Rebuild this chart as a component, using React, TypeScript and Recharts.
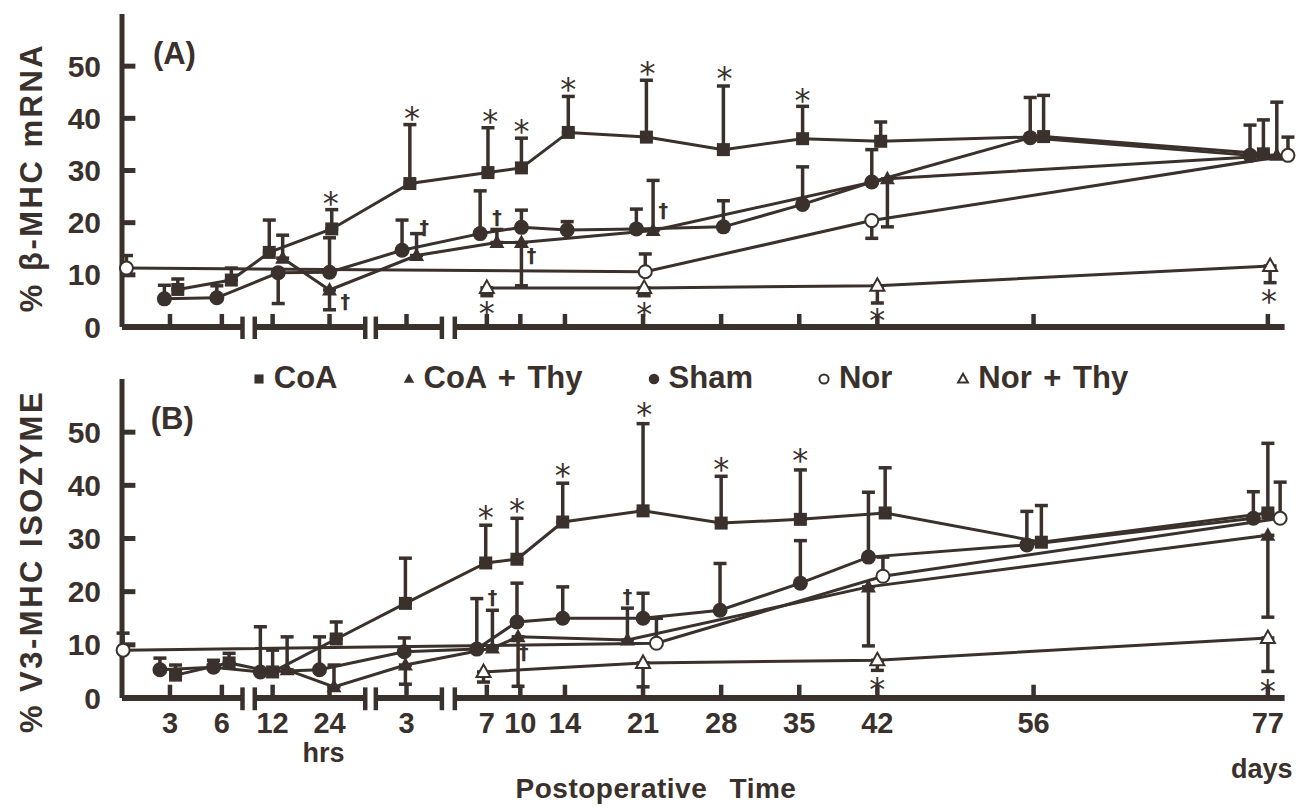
import React from 'react';
import {
  ComposedChart,
  Scatter,
  XAxis,
  YAxis,
  ErrorBar,
  ReferenceLine,
  ReferenceDot,
  Legend,
} from 'recharts';

const INK = '#3a302c';
const SANS = '"Liberation Sans", Arial, Helvetica, sans-serif';
const SYM = '"DejaVu Sans", sans-serif';

// ---------- broken time axis (days segment linear in days; hour/early segments compressed) ----------
const X_DOMAIN: [number, number] = [-25.7, 79.88];
const TIME_TICKS = [-21.4, -16.75, -12.2, -7.1, -0.2, 7, 10, 14, 21, 28, 35, 42, 56, 77];
const TIME_LABELS = ['3', '6', '12', '24', '3', '7', '10', '14', '21', '28', '35', '42', '56', '77'];
const TIME_UNITS = ['', '', '', 'hrs', '', '', '', '', '', '', '', '', '', 'days'];
const AXIS_PIECES: [number, number][] = [[-25.7, -14.9], [-13.8, -3.9], [-2.95, 2.97], [4.13, 78.5]];
const Y_TICKS = [0, 10, 20, 30, 40, 50];
const Y_DOMAIN: [number, number] = [0, 60];

const SERIES_NAMES = ['CoA', 'CoA + Thy', 'Sham', 'Nor', 'Nor + Thy'];
const SERIES_KINDS = ['square', 'tri', 'dot', 'ring', 'opentri'];

type Pt = { x: number; y: number; e: [number, number] };
const pts = (rows: number[][]): Pt[] => rows.map(([x, y, lo, hi]) => ({ x, y, e: [lo, hi] }));

// ---------- (A) % beta-MHC mRNA : [time, value, err down, err up] ----------
const coaA = pts([
  [-20.7, 7.2, 0, 2.0], [-15.9, 9.0, 0, 2.3], [-12.5, 14.3, 0, 6.2], [-6.9, 18.8, 0, 3.7],
  [0.1, 27.5, 0, 11.3], [7.1, 29.6, 0, 8.6], [10.1, 30.5, 0, 5.7], [14.3, 37.3, 0, 6.9],
  [21.3, 36.4, 0, 10.9], [28.2, 34.0, 0, 12.2], [35.3, 36.1, 0, 6.2], [42.3, 35.6, 0, 3.7],
  [56.9, 36.5, 0, 7.9], [76.6, 33.2, 0, 6.5],
]);
const coaThyA = pts([
  [-11.3, 13.2, 0, 4.4], [-7.1, 7.1, 3.8, 0], [0.7, 13.7, 0, 4.2], [7.9, 16.2, 0, 2.5],
  [10.1, 16.2, 8.3, 0], [21.9, 18.5, 0, 9.6], [42.9, 28.4, 9.2, 0], [77.8, 32.9, 0, 10.2],
]);
const shamA = pts([
  [-21.9, 5.4, 0, 2.6], [-17.2, 5.6, 0, 2.3], [-11.7, 10.4, 5.9, 0], [-7.1, 10.5, 0, 6.6],
  [-0.6, 14.7, 0, 5.8], [6.4, 17.9, 0, 8.2], [10.1, 19.1, 0, 3.3], [14.2, 18.6, 0, 1.6],
  [20.4, 18.8, 0, 3.8], [28.2, 19.2, 0, 5.0], [35.3, 23.5, 0, 7.2], [41.5, 27.8, 0, 6.2],
  [55.7, 36.3, 0, 7.7], [75.4, 32.9, 0, 5.8],
]);
const norA = pts([
  [-25.3, 11.3, 0, 2.4], [21.2, 10.6, 0, 3.4], [41.5, 20.4, 3.4, 0], [78.8, 32.9, 0, 3.5],
]);
const norThyA = pts([
  [7.0, 7.5, 1.5, 0], [21.1, 7.5, 1.5, 0], [42.0, 7.9, 3.3, 0], [77.2, 11.7, 3.2, 0],
]);
const notesA = [
  { x: -7.0, y: 24.2, s: '*' }, { x: 0.3, y: 40.5, s: '*' }, { x: 7.3, y: 39.9, s: '*' },
  { x: 10.1, y: 38.0, s: '*' }, { x: 14.3, y: 46.0, s: '*' }, { x: 21.4, y: 49.0, s: '*' },
  { x: 28.3, y: 48.1, s: '*' }, { x: 35.3, y: 43.9, s: '*' }, { x: 7.0, y: 3.0, s: '*' },
  { x: 21.1, y: 2.8, s: '*' }, { x: 42.0, y: 1.7, s: '*' }, { x: 77.1, y: 5.3, s: '*' },
  { x: -5.7, y: 4.8, s: '†' }, { x: 1.4, y: 18.9, s: '†' }, { x: 7.9, y: 20.8, s: '†' },
  { x: 11.0, y: 13.7, s: '†' }, { x: 22.8, y: 22.3, s: '†' },
];

// ---------- (B) % V3-MHC isozyme ----------
const coaB = pts([
  [-20.9, 4.3, 0, 1.9], [-16.1, 6.6, 0, 1.8], [-12.2, 4.9, 0, 4.1], [-6.5, 11.1, 0, 3.2],
  [-0.3, 17.8, 0, 8.5], [6.9, 25.4, 0, 7.1], [9.7, 26.1, 0, 7.7], [13.8, 33.1, 0, 7.3],
  [21.0, 35.2, 0, 16.4], [28.0, 32.9, 0, 8.8], [35.1, 33.6, 0, 9.3], [42.7, 34.8, 0, 8.5],
  [56.7, 29.3, 0, 6.9], [77.0, 34.8, 0, 13.1],
]);
const coaThyB = pts([
  [-10.9, 5.3, 0, 6.2], [-6.7, 2.1, 0, 4.1], [-0.3, 6.2, 3.6, 0], [7.5, 9.4, 0, 7.1],
  [9.8, 11.5, 9.3, 0], [19.6, 10.9, 0, 6.0], [41.2, 20.9, 11.1, 0], [77.0, 30.6, 15.4, 0],
]);
const shamB = pts([
  [-22.3, 5.3, 0, 2.2], [-17.5, 5.8, 0, 1.3], [-13.3, 4.9, 0, 8.5], [-8.0, 5.3, 0, 6.2],
  [-0.4, 8.7, 0, 2.6], [6.1, 9.2, 0, 9.5], [9.7, 14.3, 0, 7.3], [13.8, 15.0, 0, 5.9],
  [21.0, 15.0, 0, 4.7], [27.9, 16.5, 0, 8.8], [35.1, 21.6, 0, 8.0], [41.2, 26.5, 0, 12.2],
  [55.4, 28.8, 0, 6.3], [75.7, 33.8, 0, 5.0],
]);
const norB = pts([
  [-25.6, 9.0, 0, 3.2], [22.2, 10.3, 0, 4.7], [42.5, 22.9, 0, 3.6], [78.1, 33.8, 0, 6.8],
]);
const norThyB = pts([
  [6.7, 4.9, 1.9, 0], [21.0, 6.6, 4.5, 0], [42.0, 7.1, 1.9, 0], [77.0, 11.3, 6.3, 0],
]);
const notesB = [
  { x: 6.9, y: 34.4, s: '*' }, { x: 9.7, y: 35.7, s: '*' }, { x: 13.8, y: 42.3, s: '*' },
  { x: 21.1, y: 53.8, s: '*' }, { x: 28.0, y: 43.4, s: '*' }, { x: 35.1, y: 45.1, s: '*' },
  { x: 42.0, y: 2.0, s: '*' }, { x: 77.0, y: 1.6, s: '*' },
  { x: 7.5, y: 18.8, s: '†' }, { x: 10.3, y: 8.5, s: '†' }, { x: 19.6, y: 19.0, s: '†' },
];

// ---------- drawing helpers ----------
const drawMarker = (kind: string, cx: number, cy: number, k = 1) => {
  switch (kind) {
    case 'square':
      return <rect x={cx - 6.5 * k} y={cy - 6.5 * k} width={13 * k} height={13 * k} fill={INK} />;
    case 'tri':
      return (
        <polygon
          points={`${cx},${cy - 8 * k} ${cx + 7.5 * k},${cy + 5.5 * k} ${cx - 7.5 * k},${cy + 5.5 * k}`}
          fill={INK}
        />
      );
    case 'dot':
      return <circle cx={cx} cy={cy} r={7.5 * k} fill={INK} />;
    case 'ring':
      return <circle cx={cx} cy={cy} r={6.5 * k} fill="#fff" stroke={INK} strokeWidth={2} />;
    default:
      return (
        <polygon
          points={`${cx},${cy - 7.5 * k} ${cx + 7 * k},${cy + 5 * k} ${cx - 7 * k},${cy + 5 * k}`}
          fill="#fff"
          stroke={INK}
          strokeWidth={2}
        />
      );
  }
};

const markerShape = (kind: string) => (p: any) => {
  if (p.cx == null || p.cy == null) return <g />;
  return drawMarker(kind, p.cx, p.cy);
};

const NoteShape = (p: any) => {
  if (p.cx == null || p.cy == null) return <g />;
  const s = p.payload?.s;
  if (s === '*') {
    return (
      <text x={p.cx} y={p.cy + 13} textAnchor="middle" fontFamily={SYM} fontSize={32} fill={INK}>
        *
      </text>
    );
  }
  return (
    <text x={p.cx} y={p.cy + 6} textAnchor="middle" fontFamily={SYM} fontWeight={700} fontSize={19} fill={INK}>
      {s}
    </text>
  );
};

const YTitle = (props: any) => {
  const vb = props.viewBox || { x: 0, y: 0, width: 0, height: 0 };
  const cx = vb.x - 31;
  const cy = vb.y + vb.height / 2 + (props.shift || 0);
  return (
    <text
      x={cx}
      y={cy}
      transform={`rotate(-90 ${cx} ${cy})`}
      textAnchor="middle"
      dominantBaseline="central"
      fontFamily={SANS}
      fontWeight={700}
      fontSize={31}
      letterSpacing={2.5}
      fill={INK}
    >
      {props.text}
    </text>
  );
};

const TimeTick = (props: any) => {
  const { x, y, payload } = props;
  const i = TIME_TICKS.indexOf(payload?.value);
  if (i < 0) return <g />;
  const unit = TIME_UNITS[i];
  return (
    <g>
      <text x={x} y={y + 35} textAnchor="middle" fontFamily={SANS} fontWeight={700} fontSize={29} fill={INK}>
        {TIME_LABELS[i]}
      </text>
      {unit ? (
        <text
          x={x - 6}
          y={y + (unit === 'hrs' ? 64 : 80)}
          textAnchor="middle"
          fontFamily={SANS}
          fontWeight={700}
          fontSize={27}
          fill={INK}
        >
          {unit}
        </text>
      ) : null}
    </g>
  );
};

const XTitle = (props: any) => {
  const vb = props.viewBox || { x: 0, y: 0, width: 0, height: 0 };
  return (
    <text
      x={vb.x + vb.width / 2 - 55}
      y={vb.y + 100}
      textAnchor="middle"
      fontFamily={SANS}
      fontWeight={700}
      fontSize={28}
      letterSpacing={0.5}
      wordSpacing={14}
      fill={INK}
    >
      Postoperative Time
    </text>
  );
};

const LegendRow = (props: any) => {
  const present = new Set((props.payload || []).map((p: any) => p.value));
  const names = SERIES_NAMES.filter((n) => present.has(n));
  return (
    <div
      style={{
        display: 'flex',
        justifyContent: 'center',
        alignItems: 'center',
        gap: 64,
        paddingLeft: 80,
        fontFamily: SANS,
        fontSize: 31,
        fontWeight: 700,
        color: INK,
        whiteSpace: 'pre',
      }}
    >
      {names.map((name) => {
        const kind = SERIES_KINDS[SERIES_NAMES.indexOf(name)];
        return (
          <span key={name} style={{ display: 'flex', alignItems: 'center', gap: 8 }}>
            <svg width={14} height={14} style={{ overflow: 'visible' }}>
              {drawMarker(kind, 7, 8, 0.7)}
            </svg>
            <span style={{ wordSpacing: 3 }}>{name}</span>
          </span>
        );
      })}
    </div>
  );
};

const axisDecor = (prefix: string) => {
  const items: React.ReactNode[] = [];
  AXIS_PIECES.forEach(([a, b], i) => {
    items.push(
      <ReferenceLine
        key={`${prefix}-piece-${i}`}
        segment={[{ x: a, y: 0 }, { x: b, y: 0 }]}
        stroke={INK}
        strokeWidth={6}
        ifOverflow="visible"
      />
    );
    const ends = [];
    if (i > 0) ends.push(a);
    if (i < AXIS_PIECES.length - 1) ends.push(b);
    ends.forEach((e, j) =>
      items.push(
        <ReferenceLine
          key={`${prefix}-brk-${i}-${j}`}
          segment={[{ x: e, y: -2.3 }, { x: e, y: 2.0 }]}
          stroke={INK}
          strokeWidth={4.5}
          ifOverflow="visible"
        />
      )
    );
  });
  TIME_TICKS.forEach((t, i) =>
    items.push(
      <ReferenceLine
        key={`${prefix}-xt-${i}`}
        segment={[{ x: t, y: 0 }, { x: t, y: 2.5 }]}
        stroke={INK}
        strokeWidth={4.5}
        ifOverflow="visible"
      />
    )
  );
  Y_TICKS.slice(1).forEach((v, i) =>
    items.push(
      <ReferenceLine
        key={`${prefix}-yt-${i}`}
        segment={[{ x: X_DOMAIN[0], y: v }, { x: X_DOMAIN[0] + 1.2, y: v }]}
        stroke={INK}
        strokeWidth={5}
        ifOverflow="visible"
      />
    )
  );
  return items;
};

const seriesEls = (prefix: string, data: Pt[][]) =>
  data.map((d, i) => (
    <Scatter
      key={`${prefix}-s-${i}`}
      name={SERIES_NAMES[i]}
      data={d}
      dataKey="y"
      fill={INK}
      line={{ stroke: INK, strokeWidth: 3 }}
      lineType="joint"
      shape={markerShape(SERIES_KINDS[i])}
      isAnimationActive={false}
    >
      <ErrorBar dataKey="e" direction="y" width={6.5} stroke={INK} strokeWidth={3.5} />
    </Scatter>
  ));

const noteEl = (prefix: string, notes: { x: number; y: number; s: string }[]) => (
  <Scatter
    key={`${prefix}-notes`}
    name="notes"
    data={notes}
    dataKey="y"
    legendType="none"
    shape={NoteShape}
    isAnimationActive={false}
  />
);

export default function App() {
  return (
    <div style={{ position: 'absolute', left: 0, top: 0, width: 1300, height: 812, background: '#fff' }}>
      {/* Panel A */}
      <div style={{ position: 'absolute', left: 0, top: 0 }}>
        <ComposedChart width={1300} height={400} margin={{ top: 14, right: 0, bottom: 73, left: 62 }}>
          <XAxis type="number" dataKey="x" domain={X_DOMAIN} ticks={TIME_TICKS} hide />
          <YAxis
            type="number"
            dataKey="y"
            domain={Y_DOMAIN}
            ticks={Y_TICKS}
            interval={0}
            width={60}
            tickSize={0}
            tickMargin={21}
            tickLine={false}
            axisLine={{ stroke: INK, strokeWidth: 5 }}
            tick={{ fill: INK, fontSize: 30, fontWeight: 700, fontFamily: SANS }}
            label={<YTitle text="% β-MHC mRNA" shift={7} />}
          />
          {axisDecor('a')}
          <ReferenceDot
            x={-21}
            y={52.5}
            r={0}
            fill="none"
            stroke="none"
            label={{ value: '(A)', position: 'center', fill: INK, fontSize: 31, fontWeight: 700, fontFamily: SANS }}
          />
          {seriesEls('a', [coaA, coaThyA, shamA, norA, norThyA])}
          {noteEl('a', notesA)}
          <Legend
            layout="horizontal"
            verticalAlign="middle"
            align="center"
            content={<LegendRow />}
            wrapperStyle={{ top: 360, left: 0, width: 1300 }}
          />
        </ComposedChart>
      </div>
      {/* Panel B */}
      <div style={{ position: 'absolute', left: 0, top: 360 }}>
        <ComposedChart width={1300} height={452} margin={{ top: 19, right: 0, bottom: 14, left: 62 }}>
          <XAxis
            type="number"
            dataKey="x"
            domain={X_DOMAIN}
            ticks={TIME_TICKS}
            interval={0}
            height={100}
            axisLine={false}
            tickLine={false}
            tickSize={0}
            tickMargin={0}
            tick={<TimeTick />}
            label={<XTitle />}
          />
          <YAxis
            type="number"
            dataKey="y"
            domain={Y_DOMAIN}
            ticks={Y_TICKS}
            interval={0}
            width={60}
            tickSize={0}
            tickMargin={21}
            tickLine={false}
            axisLine={{ stroke: INK, strokeWidth: 5 }}
            tick={{ fill: INK, fontSize: 30, fontWeight: 700, fontFamily: SANS }}
            label={<YTitle text="% V3-MHC ISOZYME" shift={23} />}
          />
          {axisDecor('b')}
          <ReferenceDot
            x={-21.2}
            y={52.6}
            r={0}
            fill="none"
            stroke="none"
            label={{ value: '(B)', position: 'center', fill: INK, fontSize: 31, fontWeight: 700, fontFamily: SANS }}
          />
          {seriesEls('b', [coaB, coaThyB, shamB, norB, norThyB])}
          {noteEl('b', notesB)}
        </ComposedChart>
      </div>
    </div>
  );
}
